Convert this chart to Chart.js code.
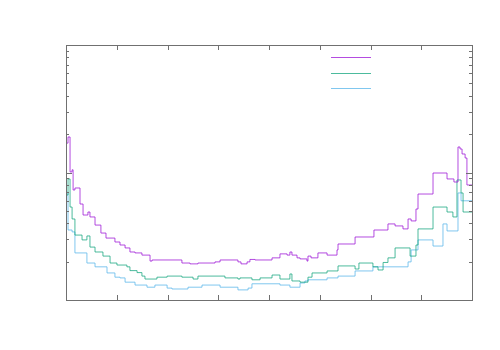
<!DOCTYPE html>
<html>
<head>
<meta charset="utf-8">
<title>Distribucion</title>
<script src="https://cdn.jsdelivr.net/npm/chart.js@4/dist/chart.umd.min.js"></script>
<style>
    body { margin: 0; background: #fff; }
    canvas { display: block; }
</style>
</head>
<body>
<canvas id="grafica" width="500" height="350"></canvas>
<script>
// bordes izquierdos de cada escalon y su valor
const bordesMorado = [
    -1, -0.990, -0.980, -0.970, -0.965, -0.956, -0.931, -0.916, -0.892, -0.882,
    -0.857, -0.828, -0.803, -0.759, -0.734, -0.709, -0.685, -0.660, -0.626, -0.586,
    -0.576, -0.429, -0.389, -0.350, -0.266, -0.241, -0.153, -0.138, -0.108, -0.094,
    -0.069, 0.015, 0.054, 0.089, 0.103, 0.113, 0.138, 0.153, 0.187, 0.192,
    0.207, 0.241, 0.286, 0.335, 0.340, 0.424, 0.517, 0.586, 0.621, 0.660,
    0.685, 0.700, 0.724, 0.734, 0.808, 0.877, 0.911, 0.931, 0.941, 0.951,
    0.966, 0.975, 0.990
];
const valoresMorado = [
    12.5, 17.0, 19.0, 10.1, 10.5, 7.29, 7.56, 5.66, 4.64, 4.90,
    4.48, 3.87, 3.35, 3.06, 2.85, 2.70, 2.56, 2.38, 2.34, 2.25,
    2.02, 2.06, 1.95, 1.92, 1.95, 1.99, 2.06, 1.99, 1.92, 1.99,
    2.08, 2.06, 2.14, 2.30, 2.25, 2.38, 2.25, 2.14, 2.10, 2.02,
    2.21, 2.14, 2.34, 2.25, 2.47, 2.75, 3.12, 3.54, 3.95, 3.81,
    3.61, 4.32, 4.17, 5.17, 6.78, 9.91, 8.90, 8.42, 15.85, 15.29,
    13.97, 12.99, 7.98
];

const bordesVerde = [
    -1, -0.990, -0.980, -0.970, -0.956, -0.921, -0.897, -0.882, -0.857, -0.818,
    -0.783, -0.749, -0.700, -0.685, -0.650, -0.626, -0.611, -0.552, -0.502, -0.429,
    -0.374, -0.350, -0.217, -0.153, -0.143, -0.084, -0.044, 0.015, 0.054, 0.103,
    0.113, 0.153, 0.192, 0.212, 0.286, 0.340, 0.424, 0.443, 0.512, 0.537,
    0.562, 0.586, 0.621, 0.695, 0.724, 0.734, 0.808, 0.877, 0.906, 0.926,
    0.946, 0.956, 0.990
];
const valoresVerde = [
    5.08, 6.66, 8.90, 5.36, 4.32, 3.23, 2.96, 3.18, 2.60, 2.38,
    2.21, 1.95, 1.88, 1.82, 1.70, 1.64, 1.54, 1.46, 1.51, 1.54,
    1.51, 1.46, 1.54, 1.49, 1.46, 1.49, 1.44, 1.49, 1.57, 1.46,
    1.60, 1.41, 1.38, 1.51, 1.63, 1.69, 1.85, 1.75, 1.95, 1.82,
    1.72, 1.97, 2.14, 2.56, 2.21, 2.70, 3.61, 5.36, 4.90, 4.48,
    8.74, 6.91, 4.90
];

const bordesAzul = [
    -1, -0.990, -0.970, -0.956, -0.897, -0.857, -0.798, -0.759, -0.734, -0.709,
    -0.660, -0.601, -0.562, -0.502, -0.478, -0.399, -0.330, -0.241, -0.153, -0.103,
    -0.084, 0.054, 0.103, 0.153, 0.177, 0.192, 0.286, 0.340, 0.424, 0.512,
    0.685, 0.700, 0.734, 0.808, 0.857, 0.877, 0.931, 0.946, 0.990
];
const valoresAzul = [
    5.56, 7.0, 3.54, 3.42, 2.34, 1.95, 1.82, 1.63, 1.51, 1.49,
    1.38, 1.31, 1.26, 1.31, 1.24, 1.22, 1.26, 1.31, 1.26, 1.20,
    1.24, 1.34, 1.31, 1.26, 1.36, 1.41, 1.44, 1.49, 1.54, 1.69,
    1.82, 1.99, 2.47, 2.96, 2.65, 3.95, 3.48, 6.91, 6.0
];

const xTicks = [-0.75, -0.5, -0.25, 0, 0.25, 0.5, 0.75];
const yTicksMayores = [10];
const yTicksMenores = [2, 3, 4, 5, 6, 7, 8, 9, 20, 30, 40, 50, 60, 70, 80, 90];

const colores = ['rgba(148, 0, 211, 0.7)', 'rgba(0, 158, 115, 0.7)', 'rgba(86, 180, 233, 0.75)'];

function escalones(bordes, valores) {
    const puntos = bordes.map((b, i) => ({ x: b, y: valores[i] }));
    puntos.push({ x: 1, y: valores[valores.length - 1] });
    return puntos;
}

// marco, ticks hacia dentro y muestras de la leyenda (sin texto)
const marco = {
    id: 'marco',
    afterDraw(chart) {
        const { ctx, chartArea: a, scales: { x, y } } = chart;
        ctx.save();
        ctx.strokeStyle = '#707070';
        ctx.lineWidth = 1;
        ctx.beginPath();
        xTicks.forEach(v => {
            const px = Math.round(x.getPixelForValue(v)) + 0.5;
            ctx.moveTo(px, a.bottom); ctx.lineTo(px, a.bottom - 5);
            ctx.moveTo(px, a.top); ctx.lineTo(px, a.top + 5);
        });
        yTicksMayores.concat(yTicksMenores).forEach(v => {
            const largo = yTicksMayores.includes(v) ? 6 : 3;
            const py = Math.round(y.getPixelForValue(v)) + 0.5;
            ctx.moveTo(a.left, py); ctx.lineTo(a.left + largo, py);
            ctx.moveTo(a.right, py); ctx.lineTo(a.right - largo, py);
        });
        ctx.stroke();
        ctx.strokeRect(a.left + 0.5, a.top + 0.5, a.right - a.left, a.bottom - a.top);

        const filas = [57, 73, 88];
        filas.forEach((fila, i) => {
            ctx.fillStyle = colores[i];
            ctx.fillRect(331, fila, 40, 1);
        });
        ctx.restore();
    }
};

const grafica = document.querySelector('#grafica');

new Chart(grafica, {
    type: 'line',
    data: {
        datasets: [
            { data: escalones(bordesMorado, valoresMorado), borderColor: colores[0] },
            { data: escalones(bordesVerde, valoresVerde), borderColor: colores[1] },
            { data: escalones(bordesAzul, valoresAzul), borderColor: colores[2] }
        ].map(d => ({ ...d, stepped: 'after', borderWidth: 1, pointRadius: 0, fill: false }))
    },
    options: {
        responsive: false,
        animation: false,
        layout: { padding: { left: 66, right: 28, top: 45, bottom: 50 } },
        scales: {
            x: { type: 'linear', min: -1, max: 1, display: false },
            y: { type: 'logarithmic', min: 1, max: 100, display: false }
        },
        plugins: {
            legend: { display: false },
            tooltip: { enabled: false }
        }
    },
    plugins: [marco]
});
</script>
</body>
</html>
